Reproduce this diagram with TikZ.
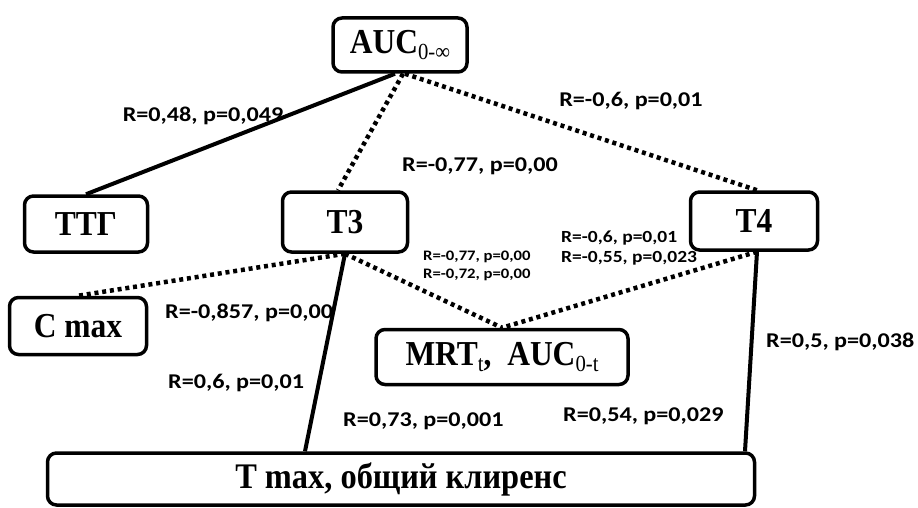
\documentclass[tikz,border=0pt]{standalone}
\usepackage{fontspec}
\setmainfont{Liberation Serif}
\newfontfamily\boxfont{Liberation Serif}[FakeStretch=0.9]
\newfontfamily\labfont{Carlito}[FakeStretch=1.15]
\newcommand{\subtxt}[1]{\raisebox{-6pt}{\fontsize{23}{23}\selectfont\mdseries #1}}
\begin{document}
\begin{tikzpicture}[x=1pt,y=-1pt,
  box/.style={draw, line width=3.5pt, rounded corners=9pt, inner sep=0pt,
    font=\fontsize{35}{35}\boxfont\bfseries, align=center},
  solidline/.style={line width=4pt},
  dotline/.style={line width=4.5pt, dash pattern=on 4pt off 3.8pt},
  lab/.style={font=\fontsize{21}{22}\labfont\bfseries, inner sep=0pt},
  smlab/.style={font=\fontsize{14.5}{16}\labfont\bfseries, inner sep=0pt, anchor=west},
  midlab/.style={font=\fontsize{17}{18}\labfont\bfseries, inner sep=0pt, anchor=west}]
\useasboundingbox (0,0) rectangle (918,508);
% boxes
\node[box, minimum width=134pt, minimum height=54pt] (auc) at (400,45) {AUC\subtxt{0-∞}};
\node[box, minimum width=123pt, minimum height=56pt] (ttg) at (86,224) {ТТГ};
\node[box, minimum width=125pt, minimum height=60pt] (t3) at (345,222) {T3};
\node[box, minimum width=127pt, minimum height=58pt] (t4) at (754,221) {T4};
\node[box, minimum width=137pt, minimum height=57pt] (cmax) at (78,326) {C max};
\node[box, minimum width=252pt, minimum height=55pt] (mrt) at (502,357) {MRT\subtxt{t}, \ AUC\subtxt{0-t}};
\node[box, minimum width=707pt, minimum height=52pt] (tmax) at (401,479) {\fontsize{36}{36}\selectfont T max, общий клиренс};
% connectors
\draw[solidline] ([xshift=-5pt]auc.south) -- (ttg.north);
\draw[dotline] ([xshift=3pt]auc.south) -- ([xshift=-7pt]t3.north);
\draw[dotline] ([xshift=5pt]auc.south) -- ([xshift=3pt]t4.north);
\draw[dotline] (t3.south) -- (cmax.north);
\draw[dotline] (t3.south) -- (mrt.north);
\draw[dotline] ([xshift=3pt]t4.south) -- (mrt.north);
\draw[solidline] (t3.south) -- ([xshift=-96pt]tmax.north);
\draw[solidline] ([xshift=3pt]t4.south) -- ([xshift=344pt]tmax.north);
% labels
\node[lab] (l1) at (203,116) {R=0,48, p=0,049};
\node[lab] (l2) at (631,101) {R=-0,6, p=0,01};
\node[lab] (l3) at (480,166) {R=-0,77, p=0,00};
\node[smlab] (l4) at (423,257) {R=-0,77, p=0,00};
\node[smlab] (l5) at (423,275) {R=-0,72, p=0,00};
\node[midlab] (l6) at (561,238) {R=-0,6, p=0,01};
\node[midlab] (l7) at (561,258) {R=-0,55, p=0,023};
\node[lab, anchor=west] (l8) at (165,313) {R=-0,857, p=0,00};
\node[lab, anchor=west] (l9) at (168,383) {R=0,6, p=0,01};
\node[lab, anchor=west] (l10) at (343,421) {R=0,73, p=0,001};
\node[lab, anchor=west] (l11) at (563,416) {R=0,54, p=0,029};
\node[lab, anchor=west] (l12) at (766,342) {R=0,5, p=0,038};
\end{tikzpicture}
\end{document}
